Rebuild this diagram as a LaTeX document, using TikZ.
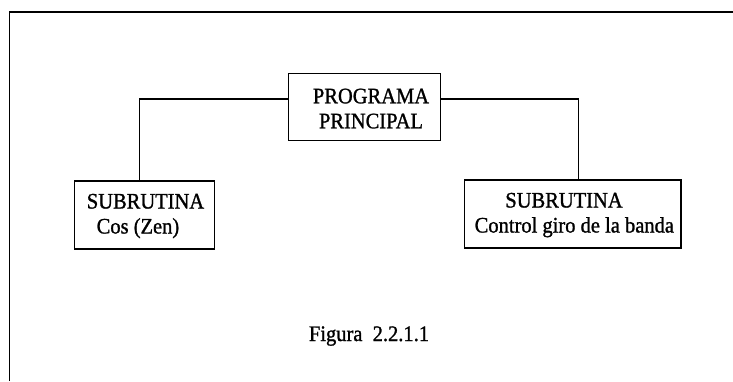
\documentclass[tikz,border=0pt]{standalone}
\usepackage{fontspec}
\setmainfont{Liberation Serif}[BoldFont={Liberation Serif},BoldFeatures={FakeBold=1.2}]
\newcommand{\scantxt}[1]{\scalebox{1}[1.08]{#1}}
\begin{document}
\begin{tikzpicture}[x=1pt,y=-1pt,
  box/.style={draw=black,line width=1.4pt,minimum width=#1,inner sep=0pt,anchor=north west},
  lbl/.style={anchor=base,inner sep=0pt,font=\fontsize{20.5}{25}\selectfont\bfseries},
  lblw/.style={anchor=base west,inner sep=0pt,font=\fontsize{20.5}{25}\selectfont\bfseries},
  conn/.style={draw=black,line width=1.3pt}]
\useasboundingbox (0,0) rectangle (733,381);
% outer frame (top and left edges)
\draw[line width=1.9pt] (9.5,381) -- (9.5,11.7) -- (733,11.7);
% boxes
\node[box=152pt,minimum height=67.3pt] (main) at (287.5,72.7) {};
\node[box=140pt,minimum height=68pt] (lbox) at (74,180.2) {};
\node[box=216.4pt,minimum height=68pt] (rbox) at (463.8,179.3) {};
% texts
\node[lbl] (t1) at (371,103.3) {\scantxt{PROGRAMA}};
\node[lbl] (t2) at (371,128.3) {\scantxt{PRINCIPAL}};
\node[lbl] (t3) at (145.5,208.5) {\scantxt{SUBRUTINA}};
\node[lblw] (t4) at (96.5,233.5) {\scantxt{Cos (Zen)}};
\node[lbl] (t5) at (564,207.5) {\scantxt{SUBRUTINA}};
\node[lblw] (t6) at (474.5,232.5) {\scantxt{Control giro de la banda}};
\node[lbl] (cap) at (369,341) {\scantxt{Figura\hspace{0.5em}2.2.1.1}};
% connectors
\coordinate (lturn) at (139.3,99);
\coordinate (rturn) at (578.8,99);
\draw[conn] (lturn -| main.west) -- (lturn) -- (lturn |- lbox.north);
\draw[conn] (rturn -| main.east) -- (rturn) -- (rturn |- rbox.north);
\end{tikzpicture}
\end{document}
